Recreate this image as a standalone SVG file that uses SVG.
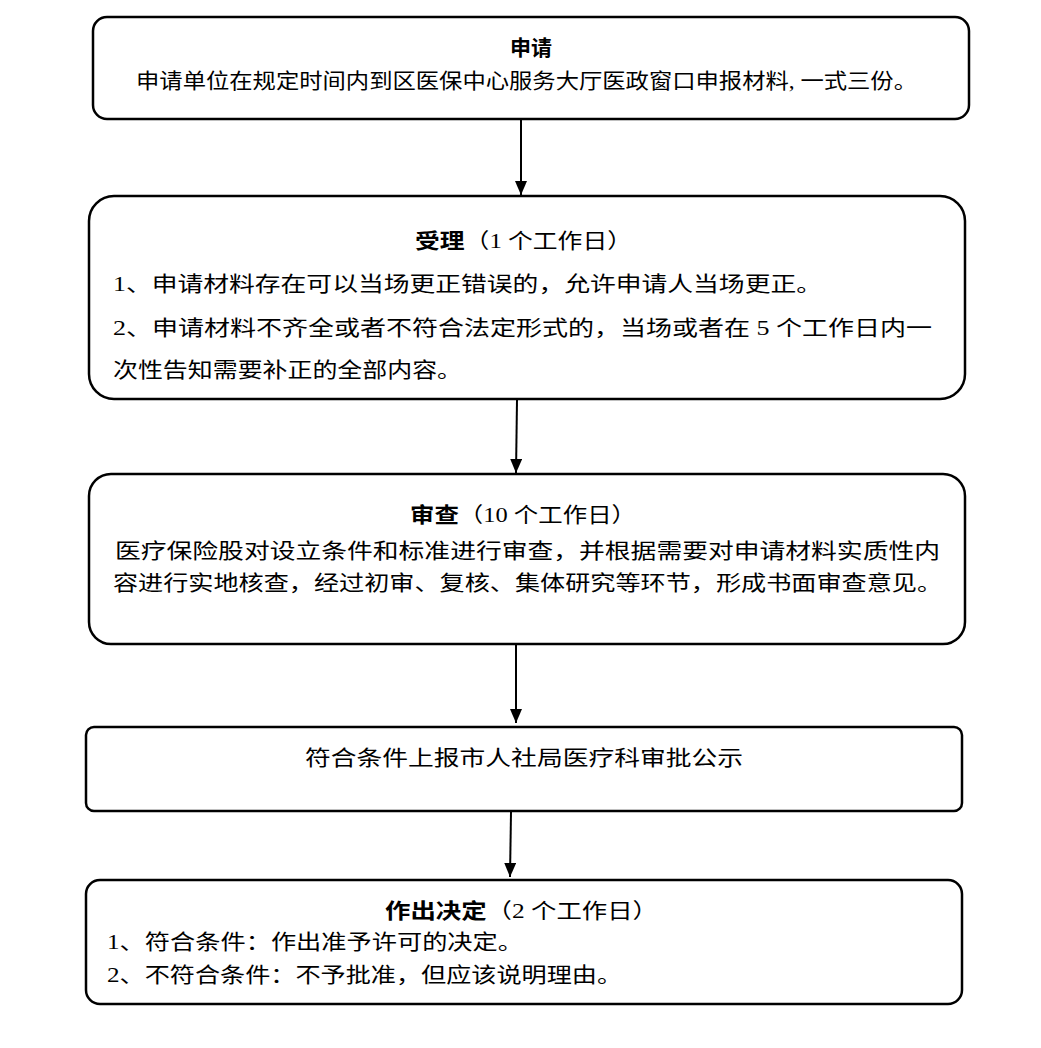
<svg xmlns="http://www.w3.org/2000/svg" width="1041" height="1048" viewBox="0 0 1041 1048">
<style>
.box{fill:#fff;stroke:#000;stroke-width:2.5}
text{font-family:"Liberation Serif","Noto Sans CJK SC",serif;font-size:21px;fill:#000}
.b{font-weight:bold}
.c{text-anchor:middle}
.con{stroke:#000;stroke-width:2;fill:none}
</style>
<defs>
<marker id="ah" viewBox="0 0 14 12" refX="14" refY="6" markerWidth="14" markerHeight="12" markerUnits="userSpaceOnUse" orient="auto">
<path d="M0,0 L14,6 L0,12 Z" fill="#000"/>
</marker>
</defs>
<rect width="1041" height="1048" fill="#fff"/>
<g id="connectors">
<line class="con" x1="521" y1="120" x2="521" y2="195" marker-end="url(#ah)"/>
<line class="con" x1="517" y1="400" x2="516" y2="473" marker-end="url(#ah)"/>
<line class="con" x1="516" y1="645" x2="516" y2="723" marker-end="url(#ah)"/>
<line class="con" x1="511" y1="812" x2="510" y2="877" marker-end="url(#ah)"/>
</g>
<g id="node-apply">
<rect class="box" x="93" y="17" width="876" height="102" rx="14"/>
<text class="b c" x="531" y="55">申请</text>
<text x="136" y="88" textLength="781" lengthAdjust="spacingAndGlyphs">申请单位在规定时间内到区医保中心服务大厅医政窗口申报材料, 一式三份。</text>
</g>
<g id="node-accept">
<rect class="box" x="89" y="196" width="876" height="203" rx="25"/>
<text x="415" y="248" textLength="217" lengthAdjust="spacingAndGlyphs"><tspan class="b">受理</tspan>（1 个工作日）</text>
<text x="113" y="291" textLength="709" lengthAdjust="spacingAndGlyphs">1、申请材料存在可以当场更正错误的，允许申请人当场更正。</text>
<text x="113" y="335" textLength="819" lengthAdjust="spacingAndGlyphs">2、申请材料不齐全或者不符合法定形式的，当场或者在 5 个工作日内一</text>
<text x="113" y="377" textLength="349" lengthAdjust="spacingAndGlyphs">次性告知需要补正的全部内容。</text>
</g>
<g id="node-review">
<rect class="box" x="89" y="474" width="876" height="170" rx="22"/>
<text x="410" y="522" textLength="226" lengthAdjust="spacingAndGlyphs"><tspan class="b">审查</tspan>（10 个工作日）</text>
<text x="115" y="558" textLength="825" lengthAdjust="spacingAndGlyphs">医疗保险股对设立条件和标准进行审查，并根据需要对申请材料实质性内</text>
<text x="113" y="590" textLength="829" lengthAdjust="spacingAndGlyphs">容进行实地核查，经过初审、复核、集体研究等环节，形成书面审查意见。</text>
</g>
<g id="node-report">
<rect class="box" x="86" y="727" width="876" height="84" rx="8"/>
<text x="305" y="765" textLength="438" lengthAdjust="spacingAndGlyphs">符合条件上报市人社局医疗科审批公示</text>
</g>
<g id="node-decide">
<rect class="box" x="86" y="880" width="876" height="124" rx="14"/>
<text x="385" y="918" textLength="273" lengthAdjust="spacingAndGlyphs"><tspan class="b">作出决定</tspan>（2 个工作日）</text>
<text x="107" y="949" textLength="416" lengthAdjust="spacingAndGlyphs">1、符合条件：作出准予许可的决定。</text>
<text x="107" y="982" textLength="515" lengthAdjust="spacingAndGlyphs">2、不符合条件：不予批准，但应该说明理由。</text>
</g>
</svg>
